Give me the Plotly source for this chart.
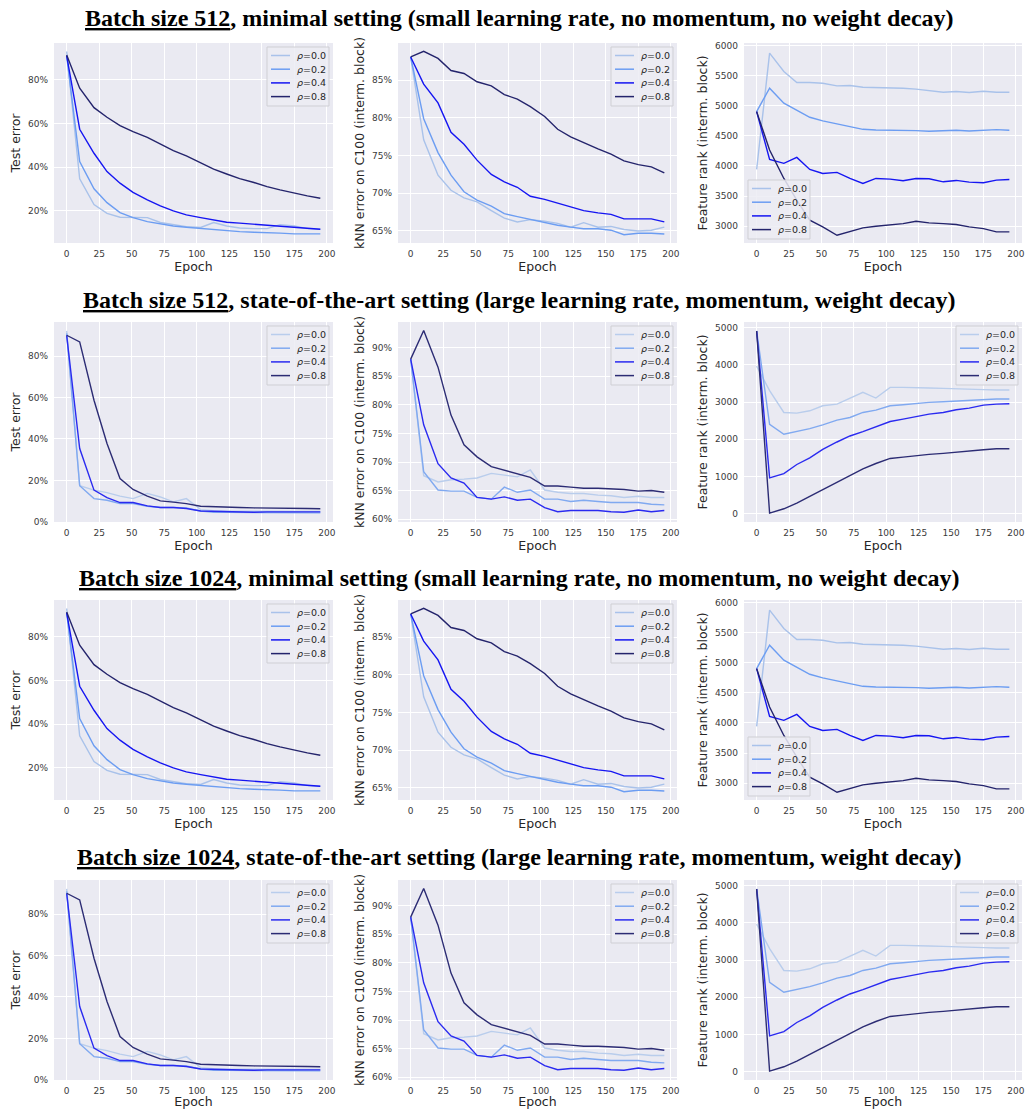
import plotly.graph_objects as go

W, H = 1026, 1109

# ---------------- data ----------------
epochs = [0, 10, 21, 31, 41, 51, 62, 72, 82, 92, 103, 113, 123, 133, 144, 154, 164, 175, 185, 195]
rho_labels = ["<i>ρ</i>=0.0", "<i>ρ</i>=0.2", "<i>ρ</i>=0.4", "<i>ρ</i>=0.8"]

# minimal setting (small lr, no momentum, no wd)
min_test_r00 = [93.0, 34.7, 22.9, 18.9, 17.1, 17.1, 16.9, 14.7, 13.6, 12.8, 12.4, 14.7, 13.1, 12.2, 11.9, 11.9, 13.7, 13.1, 11.9, 11.6]
min_test_r02 = [91.0, 42.6, 30.1, 23.8, 19.2, 16.9, 15.1, 14.0, 13.1, 12.5, 11.9, 11.3, 10.8, 10.5, 10.2, 10.1, 9.8, 9.5, 9.5, 9.5]
min_test_r04 = [91.0, 57.4, 46.4, 38.0, 32.7, 28.5, 25.0, 22.3, 20.0, 18.2, 16.9, 15.9, 14.8, 14.4, 13.9, 13.3, 12.8, 12.5, 11.9, 11.6]
min_test_r08 = [91.4, 76.2, 67.3, 62.9, 59.1, 56.3, 53.7, 50.7, 47.6, 45.2, 42.1, 39.1, 36.9, 34.8, 33.0, 31.1, 29.6, 28.1, 26.9, 25.8]

min_knn_r00 = [88.1, 77.1, 72.4, 70.4, 69.4, 68.85, 67.7, 66.7, 66.2, 66.5, 66.3, 66.0, 65.5, 66.1, 65.5, 65.6, 65.2, 65.0, 65.1, 65.5]
min_knn_r02 = [88.1, 79.9, 75.4, 72.4, 70.2, 69.1, 68.3, 67.3, 66.9, 66.5, 66.1, 65.75, 65.5, 65.3, 65.3, 65.1, 64.5, 64.7, 64.7, 64.6]
min_knn_r04 = [88.1, 84.5, 82.0, 78.1, 76.5, 74.4, 72.5, 71.5, 70.8, 69.6, 69.2, 68.7, 68.2, 67.7, 67.4, 67.2, 66.6, 66.6, 66.6, 66.2]
min_knn_r08 = [88.1, 88.85, 87.9, 86.3, 85.9, 84.8, 84.25, 83.1, 82.5, 81.5, 80.2, 78.5, 77.5, 76.7, 75.9, 75.2, 74.3, 73.8, 73.5, 72.7]

min_rank_r00 = [3943, 5872, 5567, 5384, 5384, 5373, 5329, 5335, 5307, 5301, 5301, 5290, 5274, 5246, 5224, 5235, 5218, 5240, 5224, 5224]
min_rank_r02 = [4902, 5290, 5041, 4919, 4808, 4747, 4697, 4653, 4608, 4597, 4597, 4586, 4586, 4575, 4586, 4592, 4580, 4586, 4603, 4592]
min_rank_r04 = [4902, 4109, 4043, 4142, 3943, 3876, 3893, 3793, 3710, 3793, 3782, 3754, 3793, 3787, 3737, 3760, 3732, 3721, 3765, 3776]
min_rank_r08 = [4902, 4264, 3793, 3433, 3100, 2989, 2850, 2906, 2972, 3000, 3028, 3044, 3083, 3056, 3044, 3028, 2989, 2961, 2906, 2906]

# state-of-the-art setting (large lr, momentum, wd)
sota_test_r00 = [92.2, 17.4, 15.3, 14.1, 12.4, 11.2, 13.7, 12.0, 9.6, 11.2, 5.9, 5.3, 5.1, 5.1, 5.0, 5.3, 5.1, 5.1, 5.0, 5.0]
sota_test_r02 = [91.0, 17.4, 11.2, 10.4, 8.8, 8.8, 7.5, 6.9, 6.9, 6.7, 5.2, 4.6, 4.6, 4.6, 4.5, 4.5, 4.6, 4.6, 4.5, 4.3]
sota_test_r04 = [90.0, 35.4, 15.3, 11.7, 9.3, 9.3, 7.7, 6.9, 6.9, 6.4, 5.2, 5.0, 4.8, 4.8, 4.6, 4.8, 4.8, 5.0, 5.0, 4.8]
sota_test_r08 = [90.1, 86.9, 58.7, 37.8, 20.9, 15.6, 12.4, 10.1, 9.5, 8.8, 7.5, 7.2, 6.9, 6.9, 6.7, 6.7, 6.6, 6.6, 6.4, 6.3]

sota_knn_r00 = [88.0, 67.6, 66.5, 66.9, 67.0, 67.2, 68.0, 67.7, 67.4, 68.6, 65.1, 64.7, 64.5, 64.5, 64.2, 64.1, 63.8, 64.0, 63.8, 63.8]
sota_knn_r02 = [88.0, 68.3, 65.1, 64.9, 64.9, 63.8, 63.5, 65.6, 64.7, 65.1, 63.5, 63.5, 63.1, 63.3, 63.1, 62.9, 62.9, 62.9, 62.6, 62.5]
sota_knn_r04 = [88.0, 76.5, 69.7, 67.2, 66.3, 63.8, 63.5, 63.9, 63.3, 63.5, 62.0, 61.3, 61.5, 61.5, 61.5, 61.3, 61.2, 61.6, 61.3, 61.5]
sota_knn_r08 = [88.0, 93.0, 86.6, 78.2, 73.0, 70.9, 69.2, 68.6, 68.0, 67.3, 65.8, 65.8, 65.6, 65.4, 65.4, 65.3, 65.2, 64.9, 65.0, 64.7]

sota_rank_r00 = [3964, 3306, 2721, 2703, 2766, 2901, 2946, 3099, 3261, 3108, 3396, 3396, 3396, 3378, 3369, 3351, 3333, 3333, 3324, 3324]
sota_rank_r02 = [4910, 2405, 2135, 2207, 2288, 2387, 2514, 2586, 2721, 2784, 2901, 2928, 2964, 2991, 3009, 3027, 3054, 3072, 3081, 3081]
sota_rank_r04 = [4910, 964, 1081, 1324, 1504, 1730, 1928, 2090, 2207, 2342, 2477, 2541, 2613, 2676, 2721, 2793, 2838, 2919, 2946, 2955]
sota_rank_r08 = [4910, 18, 135, 288, 468, 649, 847, 1036, 1207, 1351, 1486, 1523, 1568, 1595, 1622, 1658, 1685, 1721, 1748, 1748]

row_titles = [
    "<u>Batch size 512</u>, minimal setting (small learning rate, no momentum, no weight decay)",
    "<u>Batch size 512</u>, state-of-the-art setting (large learning rate, momentum, weight decay)",
    "<u>Batch size 1024</u>, minimal setting (small learning rate, no momentum, no weight decay)",
    "<u>Batch size 1024</u>, state-of-the-art setting (large learning rate, momentum, weight decay)",
]
y_titles = ["Test error", "kNN error on C100 (interm. block)", "Feature rank (interm. block)"]

# ---------------- styling ----------------
colors_min = ["#a9c2ea", "#6c9df2", "#1515f2", "#24246c"]
colors_sota = ["#b9cdec", "#80a9f0", "#2a2af0", "#2c2c74"]

min_panels = [
    [min_test_r00, min_test_r02, min_test_r04, min_test_r08],
    [min_knn_r00, min_knn_r02, min_knn_r04, min_knn_r08],
    [min_rank_r00, min_rank_r02, min_rank_r04, min_rank_r08],
]
sota_panels = [
    [sota_test_r00, sota_test_r02, sota_test_r04, sota_test_r08],
    [sota_knn_r00, sota_knn_r02, sota_knn_r04, sota_knn_r08],
    [sota_rank_r00, sota_rank_r02, sota_rank_r04, sota_rank_r08],
]

rows = [
    dict(panels=min_panels, colors=colors_min,
         yranges=[[5.3, 96.9], [63.4, 89.95], [2722, 6040]],
         dticks=[20, 5, 500], legpos=["ur", "ur", "ll"]),
    dict(panels=sota_panels, colors=colors_sota,
         yranges=[[-0.1, 96.5], [59.5, 94.5], [-220, 5150]],
         dticks=[20, 5, 1000], legpos=["ur", "ur", "ur"]),
    dict(panels=min_panels, colors=colors_min,
         yranges=[[5.3, 96.9], [63.4, 89.95], [2722, 6040]],
         dticks=[20, 5, 500], legpos=["ur", "ur", "ll"]),
    dict(panels=sota_panels, colors=colors_sota,
         yranges=[[-0.1, 96.5], [59.5, 94.5], [-220, 5150]],
         dticks=[20, 5, 1000], legpos=["ur", "ur", "ur"]),
]

cols_px = [(54, 333), (398, 677), (744, 1022)]
rows_px = [(43, 243), (322, 522), (600, 800), (880, 1080)]
title_y_px = [18, 300, 578, 857]

def px(x):
    return x / W

def py(y):
    return 1 - y / H

fig = go.Figure()
layout = dict(
    width=W, height=H,
    margin=dict(l=0, r=0, t=0, b=0),
    paper_bgcolor="white",
    plot_bgcolor="#EAEAF2",
    showlegend=False,
    font=dict(family="DejaVu Sans", color="#262626"),
)
shapes = []
annotations = []

tick_font = dict(family="DejaVu Sans", size=9, color="#3a3a3a")
title_font = dict(family="DejaVu Sans", size=12.5, color="#262626")

for r, row in enumerate(rows):
    for c in range(3):
        k = r * 3 + c + 1
        xa = "x" if k == 1 else f"x{k}"
        ya = "y" if k == 1 else f"y{k}"
        xkey = "xaxis" if k == 1 else f"xaxis{k}"
        ykey = "yaxis" if k == 1 else f"yaxis{k}"
        x0, x1 = cols_px[c]
        y0, y1 = rows_px[r]
        for i in range(4):
            fig.add_trace(go.Scatter(
                x=epochs, y=row["panels"][c][i], mode="lines",
                name=rho_labels[i], xaxis=xa, yaxis=ya,
                line=dict(color=row["colors"][i], width=1.4),
            ))
        layout[xkey] = dict(
            domain=[px(x0), px(x1)], anchor=ya, range=[-9.75, 204.75],
            tick0=0, dtick=25, showgrid=True, gridcolor="white", gridwidth=1,
            zeroline=False, showline=False, ticks="", tickfont=tick_font,
            ticklabelstandoff=4, automargin=False,
            title=dict(text="Epoch", font=title_font, standoff=3),
        )
        suffix = "%" if c < 2 else ""
        layout[ykey] = dict(
            domain=[py(y1), py(y0)], anchor=xa, range=row["yranges"][c],
            tick0=0, dtick=row["dticks"][c], ticksuffix=suffix,
            showgrid=True, gridcolor="white", gridwidth=1,
            zeroline=False, showline=False, ticks="", tickfont=tick_font,
            ticklabelstandoff=5, automargin=False,
            title=dict(text=y_titles[c], font=title_font, standoff=4),
        )
        # legend box (matplotlib style)
        bw, bh = 62, 59
        if row["legpos"][c] == "ur":
            bx0, by0 = x1 - 4 - bw, y0 + 4
        else:
            bx0, by0 = x0 + 4, y1 - 4 - bh
        shapes.append(dict(
            type="rect", xref="paper", yref="paper",
            x0=px(bx0), x1=px(bx0 + bw), y0=py(by0 + bh), y1=py(by0),
            fillcolor="rgba(236,236,243,0.85)", line=dict(color="#cfcfd4", width=1),
            layer="above",
        ))
        for i in range(4):
            iy = by0 + 8.5 + i * 13.7
            shapes.append(dict(
                type="line", xref="paper", yref="paper",
                x0=px(bx0 + 4), x1=px(bx0 + 23), y0=py(iy), y1=py(iy),
                line=dict(color=row["colors"][i], width=1.5), layer="above",
            ))
            annotations.append(dict(
                text=rho_labels[i], xref="paper", yref="paper",
                x=px(bx0 + 28), y=py(iy), xanchor="left", yanchor="middle",
                showarrow=False, font=dict(family="DejaVu Sans", size=9.5, color="#262626"),
            ))
    annotations.append(dict(
        text="<b>" + row_titles[r] + "</b>", xref="paper", yref="paper",
        x=px(519), y=py(title_y_px[r]), xanchor="center", yanchor="middle",
        showarrow=False, font=dict(family="Liberation Serif", size=24, color="black"),
    ))

layout["shapes"] = shapes
layout["annotations"] = annotations
fig.update_layout(**layout)
fig.write_html("out.html")
